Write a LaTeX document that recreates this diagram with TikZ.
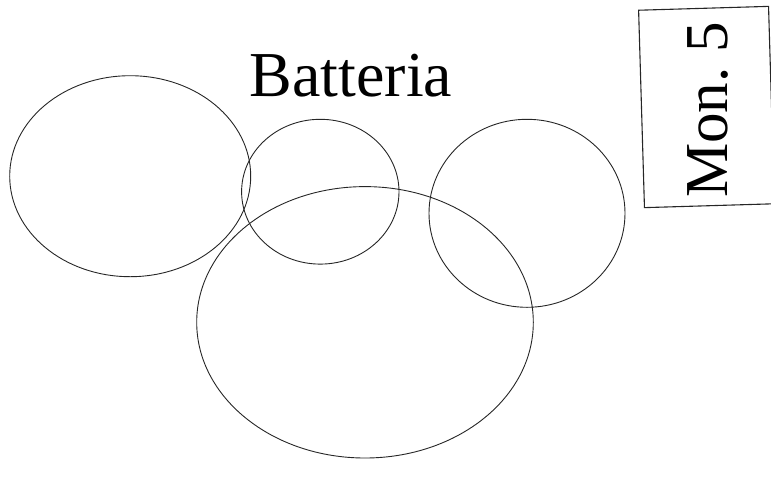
\documentclass[tikz,border=0pt]{standalone}
\usepackage{fontspec}
\setmainfont{Liberation Serif}

\begin{document}
\begin{tikzpicture}[x=1pt, y=-1pt,
        oval/.style={line width=0.9pt, black!85},
        label text/.style={inner sep=0pt},
        framebox/.style={draw, line width=1.1pt, black!85, inner sep=0pt}]

        % Page
        \useasboundingbox (0,0) rectangle (771,488);

        % Title
        \node[label text, font=\fontsize{64}{64}\selectfont, anchor=base] (title) at (351,96.7) {Batteria};

        % Ovals
        \draw[oval] (130.2,176.2) ellipse [x radius=120.5, y radius=100.5];
        \draw[oval] (320.3,191.7) ellipse [x radius=78.7, y radius=72.4];
        \draw[oval] (527,213.3) ellipse [x radius=98, y radius=94];
        \draw[oval] (365,322.3) ellipse [x radius=168.3, y radius=135.7];

        % Tag
        \node[framebox, rotate=1.7, minimum width=130pt, minimum height=197.5pt] (tag) at (706.5,107) {};
        \node[label text, font=\fontsize{61}{61}\selectfont, rotate=90, anchor=base] (tagtext) at (727,109.7) {Mon.~5};

    \end{tikzpicture}
\end{document}
